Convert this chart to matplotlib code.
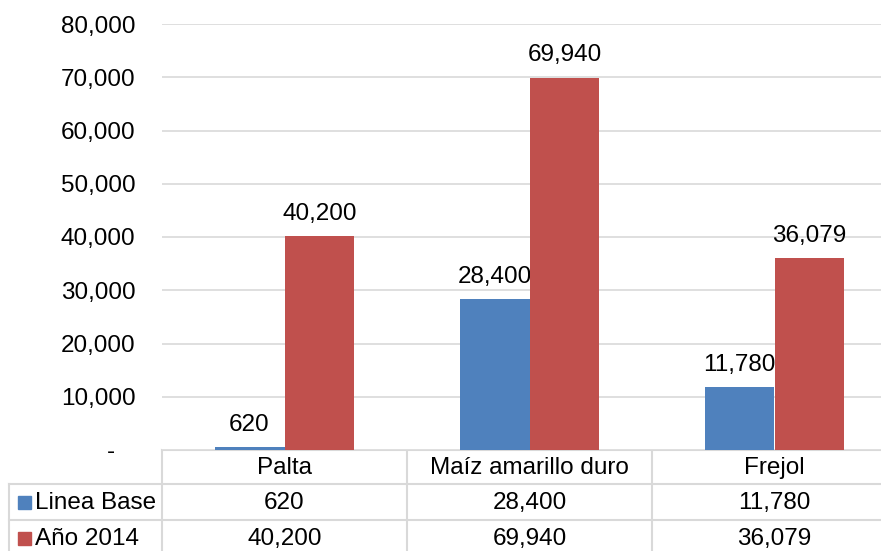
import matplotlib
matplotlib.use('Agg')
import matplotlib.pyplot as plt
from matplotlib.patches import Rectangle
import numpy as np

# Data
categories = ['Palta', 'Maíz amarillo duro', 'Frejol']
series_names = ['Linea Base', 'Año 2014']
linea_base = [620, 28400, 11780]
anio_2014 = [40200, 69940, 36079]
colors = ['#4F81BD', '#C0504D']
yticks = np.arange(0, 80001, 10000)

plt.rcParams['font.family'] = ['Liberation Sans', 'DejaVu Sans']
FS = 17.5
W, H = 881, 551

fig = plt.figure(figsize=(W / 100, H / 100), dpi=100)

# Plot area in pixels: x 162..897, y 24..450
left, right, top, bottom = 162, 897, 24, 450
ax = fig.add_axes([left / W, (H - bottom) / H, (right - left) / W, (bottom - top) / H])

x = np.arange(len(categories)) + 0.5
w = 0.2857
series = [linea_base, anio_2014]
for k, vals in enumerate(series):
    pos = x + (k - 0.5) * w
    ax.bar(pos, vals, width=w, color=colors[k], zorder=3)
    for px, v in zip(pos, vals):
        ax.annotate(f'{v:,}', (px, v), xytext=(0, 8), textcoords='offset points',
                    ha='center', va='bottom', fontsize=FS, color='#000000')

ax.set_xlim(0, 3)
ax.set_ylim(0, 80000)
ax.set_yticks(yticks)
ax.set_yticklabels(['-   ' if t == 0 else f'{t:,}' for t in yticks], fontsize=FS)
ax.set_xticks([])
ax.tick_params(axis='y', length=0, pad=19)
ax.grid(axis='y', color='#D9D9D9', linewidth=1.2, zorder=0)
for s in ax.spines.values():
    s.set_visible(False)

# Data table drawn underneath in pixel coordinates
tab = fig.add_axes([0, 0, 1, 1], zorder=-1)
tab.set_xlim(0, W)
tab.set_ylim(H, 0)
tab.axis('off')

colw = (right - left) / len(categories)
line_kw = dict(color='#D9D9D9', linewidth=1.5)
row_y = [450, 484, 520, 556]
# horizontal lines
tab.plot([left, right], [row_y[0], row_y[0]], **line_kw)
for yy in row_y[1:]:
    tab.plot([9, right], [yy, yy], **line_kw)
# vertical lines
tab.plot([9, 9], [row_y[1], row_y[3]], **line_kw)
for i in range(len(categories) + 1):
    xx = left + i * colw
    tab.plot([xx, xx], [row_y[0], row_y[3]], **line_kw)

# header
for i, c in enumerate(categories):
    tab.text(left + (i + 0.5) * colw, (row_y[0] + row_y[1]) / 2 + 1, c,
             ha='center', va='center', fontsize=FS)

# rows
for r, (name, vals) in enumerate(zip(series_names, series)):
    yc = (row_y[r + 1] + row_y[r + 2]) / 2 + 1
    tab.add_patch(Rectangle((18, yc - 7), 13, 13, color=colors[r]))
    tab.text(35, yc, name, ha='left', va='center', fontsize=FS)
    for i, v in enumerate(vals):
        tab.text(left + (i + 0.5) * colw, yc, f'{v:,}', ha='center', va='center', fontsize=FS)

fig.savefig('out.png', dpi=100)
